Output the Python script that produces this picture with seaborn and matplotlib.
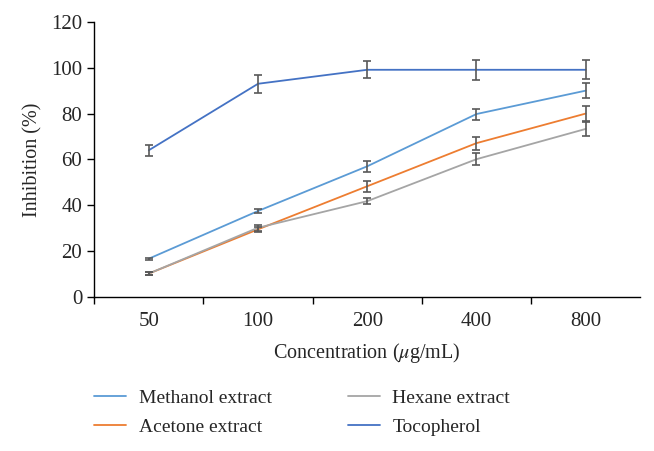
import numpy as np
import pandas as pd
import matplotlib.pyplot as plt
import seaborn as sns

# data
concentrations = ["50", "100", "200", "400", "800"]
methanol = [16.7, 37.5, 57.0, 79.8, 90.0]
methanol_err = [0.5, 0.8, 2.4, 2.4, 3.4]
acetone = [10.2, 29.5, 48.3, 67.1, 80.0]
acetone_err = [0.5, 1.0, 2.5, 2.8, 3.4]
hexane = [10.2, 30.2, 41.8, 60.1, 73.3]
hexane_err = [0.5, 1.3, 1.3, 2.5, 3.0]
tocopherol = [64.0, 93.0, 99.1, 99.1, 99.1]
tocopherol_err = [2.3, 3.9, 3.7, 4.4, 4.2]

series_names = ["Methanol extract", "Acetone extract", "Hexane extract", "Tocopherol"]
series_vals = [methanol, acetone, hexane, tocopherol]
series_errs = [methanol_err, acetone_err, hexane_err, tocopherol_err]
colors = ["#5B9BD5", "#ED7D31", "#A5A5A5", "#4472C4"]

df = pd.DataFrame({
    "conc": concentrations * 4,
    "value": sum(series_vals, []),
    "series": np.repeat(series_names, len(concentrations)),
})

sns.set_style("white")
plt.rcParams["font.family"] = ["Liberation Serif", "DejaVu Serif"]
plt.rcParams["mathtext.fontset"] = "stix"

fig = plt.figure(figsize=(6.54, 4.51), dpi=100)
ax = fig.add_axes([0.144, 0.3415, 0.835, 0.61])

sns.lineplot(data=df, x="conc", y="value", hue="series", hue_order=series_names,
             palette=colors, linewidth=1.3, sort=False, ax=ax)

for vals, errs in zip(series_vals, series_errs):
    ax.errorbar(concentrations, vals, yerr=errs, fmt="none", ecolor="#595959",
                elinewidth=1.2, capsize=3, capthick=1.2, zorder=3)

ax.set_xlim(-0.5, 4.5)
ax.set_ylim(0, 120)
ax.set_yticks(range(0, 121, 20))
ax.set_xticks(np.arange(-0.5, 4.0, 1.0), minor=True)
ax.tick_params(axis="x", which="major", bottom=True, length=0, pad=11, labelsize=15)
ax.tick_params(axis="x", which="minor", bottom=True, length=5, width=1,
               direction="out", color="black")
ax.tick_params(axis="y", left=True, length=5, width=1, direction="out",
               labelsize=15, color="black")
for side in ["top", "right"]:
    ax.spines[side].set_visible(False)
for side in ["left", "bottom"]:
    ax.spines[side].set_color("black")
    ax.spines[side].set_linewidth(1)

ax.set_xlabel(r"Concentration ($\mu$g/mL)", fontsize=14.5, labelpad=7)
ax.set_ylabel("Inhibition (%)", fontsize=14.5, labelpad=6)

handles, labels = ax.get_legend_handles_labels()
ax.legend(handles, labels, ncol=2, loc="upper left", bbox_to_anchor=(0.0, -0.335),
          frameon=False, fontsize=14, handlelength=1.65, columnspacing=3.9,
          labelspacing=0.6, handletextpad=0.65, borderpad=0, borderaxespad=0)

fig.savefig("out.png", dpi=100)
